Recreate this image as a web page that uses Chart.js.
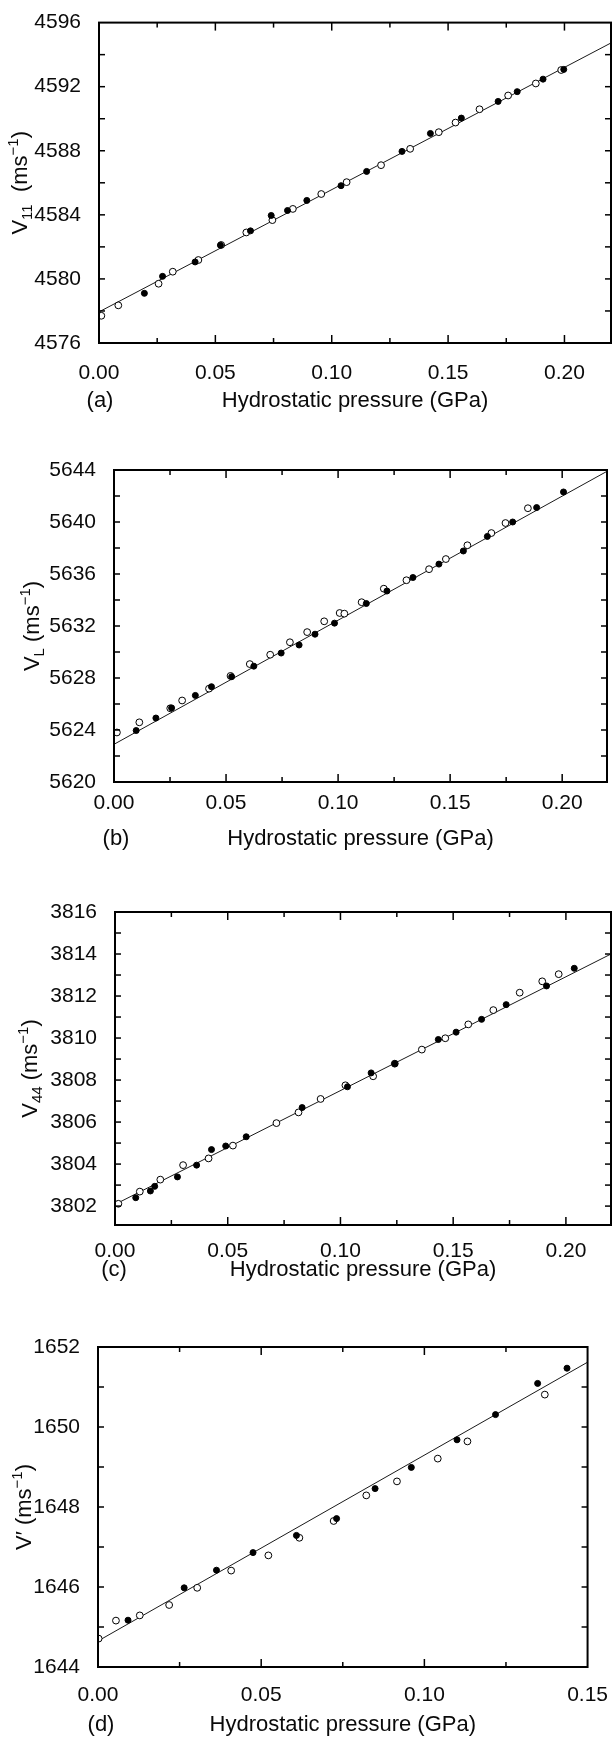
<!DOCTYPE html>
<html>
<head>
<meta charset="utf-8">
<script src="https://cdn.jsdelivr.net/npm/chart.js@4.4.1/dist/chart.umd.min.js"></script>
<style>
  html, body { margin: 0; padding: 0; background: #fff; }
  canvas { position: absolute; left: 0; }
</style>
</head>
<body>
<canvas id="chart-a" width="616" height="440" style="top:0px"></canvas>
<canvas id="chart-b" width="616" height="440" style="top:440px"></canvas>
<canvas id="chart-c" width="616" height="440" style="top:880px"></canvas>
<canvas id="chart-d" width="616" height="417" style="top:1320px"></canvas>
<script>
// Values (pressure in GPa, velocity in m/s).
// Open circles and filled circles are two measurement runs; fit is the straight line.

// (a) V11
const aOpenP = [0.001, 0.0083, 0.0256, 0.0317, 0.0427, 0.0525, 0.0633, 0.0745, 0.0833, 0.0955, 0.1064, 0.1212, 0.1337, 0.146, 0.1532, 0.1635, 0.1758, 0.1877, 0.1986];
const aOpenV = [4577.7, 4578.35, 4579.7, 4580.45, 4581.18, 4582.12, 4582.9, 4583.67, 4584.37, 4585.3, 4586.04, 4587.1, 4588.12, 4589.16, 4589.76, 4590.59, 4591.45, 4592.2, 4593.04];
const aFullP = [0.0195, 0.0273, 0.0413, 0.0522, 0.0651, 0.074, 0.081, 0.0893, 0.104, 0.115, 0.1302, 0.1424, 0.1557, 0.1715, 0.1797, 0.1908, 0.1997];
const aFullV = [4579.1, 4580.16, 4581.06, 4582.1, 4583.0, 4583.96, 4584.27, 4584.9, 4585.82, 4586.71, 4587.96, 4589.08, 4590.04, 4591.08, 4591.69, 4592.47, 4593.08];
const aFitP = [0, 0.22];
const aFitV = [4577.94, 4594.73];

// (b) VL
const bOpenP = [0.0013, 0.0113, 0.0251, 0.0304, 0.0424, 0.052, 0.0606, 0.0697, 0.0785, 0.0862, 0.0938, 0.1007, 0.1028, 0.1105, 0.1204, 0.1305, 0.1406, 0.1481, 0.1577, 0.1684, 0.1747, 0.1847];
const bOpenV = [5623.81, 5624.59, 5625.67, 5626.27, 5627.18, 5628.16, 5629.07, 5629.79, 5630.75, 5631.53, 5632.36, 5633.0, 5632.95, 5633.83, 5634.87, 5635.52, 5636.37, 5637.15, 5638.21, 5639.15, 5639.92, 5641.06];
const bFullP = [0.0099, 0.0187, 0.0257, 0.0363, 0.0435, 0.0525, 0.0624, 0.0746, 0.0826, 0.0897, 0.0984, 0.1126, 0.1218, 0.1334, 0.145, 0.1559, 0.1666, 0.1779, 0.1886, 0.2006];
const bFullV = [5623.96, 5624.92, 5625.7, 5626.66, 5627.33, 5628.1, 5628.91, 5629.92, 5630.54, 5631.37, 5632.22, 5633.73, 5634.69, 5635.73, 5636.76, 5637.77, 5638.89, 5640.0, 5641.11, 5642.31];
const bFitP = [0, 0.22];
const bFitV = [5622.9, 5643.9];

// (c) V44
const cOpenP = [0.0015, 0.011, 0.0201, 0.0302, 0.0415, 0.0523, 0.0716, 0.0814, 0.0912, 0.1022, 0.1145, 0.1241, 0.1361, 0.1465, 0.1567, 0.1678, 0.1795, 0.1895, 0.1968];
const cOpenV = [3802.11, 3802.69, 3803.26, 3803.95, 3804.27, 3804.88, 3805.95, 3806.46, 3807.1, 3807.75, 3808.18, 3808.78, 3809.45, 3809.99, 3810.65, 3811.33, 3812.16, 3812.7, 3813.04];
const cFullP = [0.0092, 0.0157, 0.0176, 0.0277, 0.0362, 0.0428, 0.0491, 0.0582, 0.083, 0.1031, 0.1136, 0.1241, 0.1434, 0.1513, 0.1626, 0.1735, 0.1914, 0.2037];
const cFullV = [3802.4, 3802.72, 3802.94, 3803.39, 3803.95, 3804.69, 3804.86, 3805.3, 3806.69, 3807.68, 3808.34, 3808.78, 3809.93, 3810.28, 3810.89, 3811.59, 3812.48, 3813.32];
const cFitP = [0, 0.22];
const cFitV = [3802.08, 3814.0];

// (d) V'
const dOpenP = [0.0002, 0.0055, 0.0128, 0.0218, 0.0304, 0.0408, 0.0522, 0.0617, 0.0722, 0.0822, 0.0916, 0.1041, 0.1132, 0.1369];
const dOpenV = [1644.71, 1645.16, 1645.29, 1645.55, 1645.98, 1646.41, 1646.79, 1647.23, 1647.65, 1648.29, 1648.64, 1649.21, 1649.64, 1650.81];
const dFullP = [0.0092, 0.0264, 0.0363, 0.0475, 0.0608, 0.0731, 0.0849, 0.096, 0.11, 0.1218, 0.1347, 0.1437];
const dFullV = [1645.17, 1645.98, 1646.42, 1646.86, 1647.29, 1647.71, 1648.46, 1648.99, 1649.68, 1650.31, 1651.09, 1651.47];
const dFitP = [0, 0.15];
const dFitV = [1644.65, 1651.62];

const xTitle = "Hydrostatic pressure (GPa)";
const FONT = "'Liberation Sans', Arial, Helvetica, sans-serif";
const INK = "#0a0a0a";

const toPoints = (xs, ys) => xs.map((x, i) => ({ x, y: ys[i] }));

// Draws a string made of parts, some of them sub- or superscript, centred on (cx, cy).
function drawRich(ctx, parts, cx, cy, size, rotate) {
  ctx.save();
  ctx.translate(cx, cy);
  if (rotate) ctx.rotate(-Math.PI / 2);
  const fonts = parts.map((p) => `${p.s ? Math.round(size * 0.66) : size}px ${FONT}`);
  let total = 0;
  const widths = parts.map((p, i) => {
    ctx.font = fonts[i];
    const w = ctx.measureText(p.t).width;
    total += w;
    return w;
  });
  let x = -total / 2;
  ctx.fillStyle = INK;
  ctx.textAlign = "left";
  ctx.textBaseline = "alphabetic";
  parts.forEach((p, i) => {
    ctx.font = fonts[i];
    const dy = p.s === "sub" ? size * 0.22 : p.s === "sup" ? -size * 0.42 : 0;
    ctx.fillText(p.t, x, size * 0.36 + dy);
    x += widths[i];
  });
  ctx.restore();
}

// Frame round the plot, inward ticks on all four sides, and the titles.
const framePlugin = {
  id: "frame",
  afterDatasetsDraw(chart, args, opts) {
    const { ctx, chartArea: a, scales } = chart;
    ctx.save();
    ctx.strokeStyle = "#000";
    ctx.lineWidth = 1.5;
    const seg = (x1, y1, x2, y2) => {
      ctx.beginPath();
      ctx.moveTo(x1, y1);
      ctx.lineTo(x2, y2);
      ctx.stroke();
    };
    scales.x.ticks.forEach((t) => {
      if (!opts.isMinorX(t.value)) return;
      const px = scales.x.getPixelForValue(t.value);
      if (px <= a.left + 1 || px >= a.right - 1) return;
      const len = t.label !== "" ? 8 : 5;
      seg(px, a.bottom, px, a.bottom - len);
      seg(px, a.top, px, a.top + len);
    });
    scales.y.ticks.forEach((t) => {
      if (!opts.isMinorY(t.value)) return;
      const py = scales.y.getPixelForValue(t.value);
      if (py <= a.top + 1 || py >= a.bottom - 1) return;
      seg(a.left, py, a.left + 6, py);
      seg(a.right, py, a.right - 6, py);
    });
    ctx.lineWidth = 2;
    ctx.strokeRect(a.left, a.top, a.right - a.left, a.bottom - a.top);

    ctx.fillStyle = INK;
    ctx.font = `22px ${FONT}`;
    ctx.textAlign = "center";
    ctx.textBaseline = "middle";
    ctx.fillText(xTitle, (a.left + a.right) / 2, a.bottom + opts.xTitleGap);
    ctx.fillText(opts.letter, a.left + opts.letterShift, a.bottom + opts.xTitleGap);
    ctx.restore();
    drawRich(ctx, opts.yTitle, a.left - opts.yTitleGap, (a.top + a.bottom) / 2, 22, true);
  },
};

function makePanel(id, p) {
  const canvas = document.getElementById(id);
  const H = canvas.height;
  const isMinorX = (v) => Math.abs(Math.round(v * 1000) % 25) === 0;
  const isMajorX = (v) => Math.abs(Math.round(v * 1000) % 50) === 0;
  const isMinorY = (v) => Math.abs(v - Math.round(v)) < 1e-6 && Math.round(v) % p.yMinor === 0;
  const isMajorY = (v) => Math.abs(v - Math.round(v)) < 1e-6 && Math.round(v) % p.yMajor === 0;
  return new Chart(canvas, {
    type: "scatter",
    data: {
      datasets: [
        {
          type: "line",
          data: toPoints(p.fitP, p.fitV),
          borderColor: "#1a1a1a",
          borderWidth: 1,
          pointRadius: 0,
          order: 3,
        },
        {
          data: toPoints(p.openP, p.openV),
          pointStyle: "circle",
          pointRadius: 3.4,
          backgroundColor: "#fff",
          borderColor: "#000",
          borderWidth: 1,
          order: 2,
        },
        {
          data: toPoints(p.fullP, p.fullV),
          pointStyle: "circle",
          pointRadius: 3,
          backgroundColor: "#000",
          borderColor: "#000",
          borderWidth: 1,
          order: 1,
        },
      ],
    },
    options: {
      responsive: false,
      animation: false,
      layout: { padding: { top: p.top, right: 616 - p.right, left: 0, bottom: 0 } },
      plugins: {
        legend: { display: false },
        tooltip: { enabled: false },
        frame: {
          isMinorX, isMinorY,
          letter: p.letter,
          letterShift: p.letterShift,
          xTitleGap: p.xTitleGap,
          yTitle: p.yTitle,
          yTitleGap: p.yTitleGap,
        },
      },
      scales: {
        x: {
          type: "linear",
          min: p.xMin,
          max: p.xMax,
          grid: { display: false },
          border: { display: false },
          afterFit: (s) => { s.height = H - p.bottom; },
          ticks: {
            stepSize: 0.025,
            includeBounds: false,
            autoSkip: false,
            maxRotation: 0,
            padding: p.xTickPad,
            color: INK,
            font: { family: FONT, size: 21 },
            callback: (v) => (isMajorX(v) ? v.toFixed(2) : ""),
          },
        },
        y: {
          type: "linear",
          min: p.yMin,
          max: p.yMax,
          grid: { display: false },
          border: { display: false },
          afterFit: (s) => { s.width = p.left; },
          ticks: {
            stepSize: p.yStep,
            includeBounds: false,
            autoSkip: false,
            padding: p.yTickPad,
            color: INK,
            font: { family: FONT, size: 21 },
            callback: (v) => (isMajorY(v) ? String(Math.round(v)) : ""),
          },
        },
      },
    },
    plugins: [framePlugin],
  });
}

makePanel("chart-a", {
  openP: aOpenP, openV: aOpenV, fullP: aFullP, fullV: aFullV, fitP: aFitP, fitV: aFitV,
  xMin: 0, xMax: 0.22, yMin: 4576, yMax: 4596, yStep: 2, yMinor: 2, yMajor: 4,
  left: 99, right: 613, top: 18, bottom: 343,
  xTickPad: 10, yTickPad: 10, xTitleGap: 58, letter: "(a)", letterShift: 1,
  yTitle: [{ t: "V" }, { t: "11", s: "sub" }, { t: "  (ms" }, { t: "−1", s: "sup" }, { t: ")" }],
  yTitleGap: 80,
});

makePanel("chart-b", {
  openP: bOpenP, openV: bOpenV, fullP: bFullP, fullV: bFullV, fitP: bFitP, fitV: bFitV,
  xMin: 0, xMax: 0.22, yMin: 5620, yMax: 5644, yStep: 2, yMinor: 2, yMajor: 4,
  left: 114, right: 607, top: 30, bottom: 342,
  xTickPad: 1, yTickPad: 10, xTitleGap: 57, letter: "(b)", letterShift: 2,
  yTitle: [{ t: "V" }, { t: "L", s: "sub" }, { t: " (ms" }, { t: "−1", s: "sup" }, { t: ")" }],
  yTitleGap: 83,
});

makePanel("chart-c", {
  openP: cOpenP, openV: cOpenV, fullP: cFullP, fullV: cFullV, fitP: cFitP, fitV: cFitV,
  xMin: 0, xMax: 0.22, yMin: 3801.1, yMax: 3816, yStep: 1, yMinor: 1, yMajor: 2,
  left: 115, right: 611, top: 32, bottom: 345,
  xTickPad: 6, yTickPad: 10, xTitleGap: 45, letter: "(c)", letterShift: -1,
  yTitle: [{ t: "V" }, { t: "44", s: "sub" }, { t: " (ms" }, { t: "−1", s: "sup" }, { t: ")" }],
  yTitleGap: 86,
});

makePanel("chart-d", {
  openP: dOpenP, openV: dOpenV, fullP: dFullP, fullV: dFullV, fitP: dFitP, fitV: dFitV,
  xMin: 0, xMax: 0.15, yMin: 1644, yMax: 1652, yStep: 1, yMinor: 1, yMajor: 2,
  left: 98, right: 601, top: 27, bottom: 347,
  xTickPad: 8, yTickPad: 10, xTitleGap: 58, letter: "(d)", letterShift: 3,
  yTitle: [{ t: "V′" }, { t: " (ms" }, { t: "−1", s: "sup" }, { t: ")" }],
  yTitleGap: 75,
});
</script>
</body>
</html>
